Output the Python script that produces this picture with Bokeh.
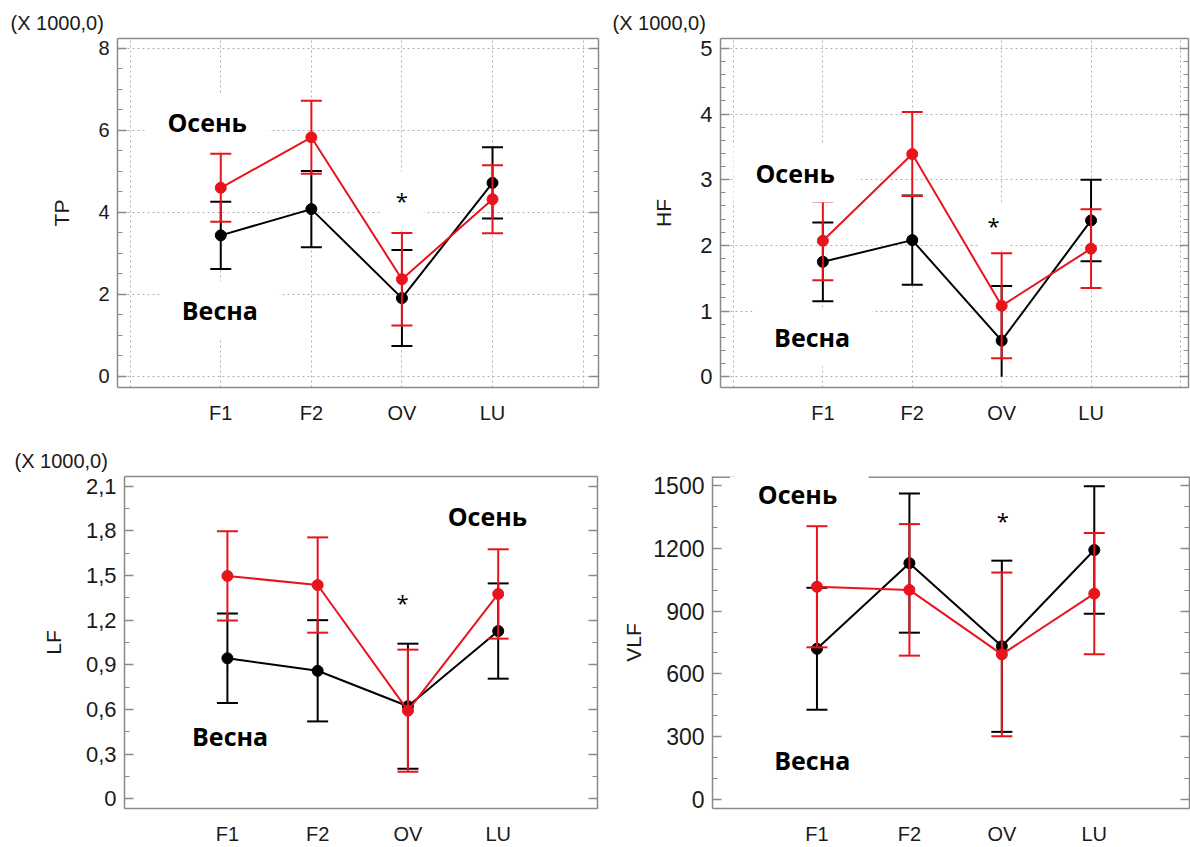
from bokeh.plotting import figure
from bokeh.models import (Range1d, LinearAxis, FixedTicker, SingleIntervalTicker,
                          CustomJSTickFormatter, Label)
from bokeh.layouts import column, row
from bokeh.embed import file_html
from bokeh.resources import INLINE

# ---------------------------------------------------------------- data
categories = ["F1", "F2", "OV", "LU"]

# total power, x1000
tp_spring = [3.44, 4.08, 1.91, 4.72]
tp_spring_err = [0.82, 0.93, 1.17, 0.87]
tp_autumn = [4.60, 5.83, 2.37, 4.32]
tp_autumn_err = [0.83, 0.89, 1.13, 0.83]

# high frequency, x1000
hf_spring = [1.75, 2.08, 0.55, 2.38]
hf_spring_err = [0.60, 0.68, 0.83, 0.62]
hf_autumn = [2.07, 3.39, 1.08, 1.95]
hf_autumn_err = [0.60, 0.64, 0.80, 0.60]

# low frequency, x1000
lf_spring = [0.944, 0.860, 0.622, 1.127]
lf_spring_err = [0.30, 0.34, 0.42, 0.32]
lf_autumn = [1.497, 1.436, 0.592, 1.376]
lf_autumn_err = [0.30, 0.32, 0.41, 0.30]

# very low frequency
vlf_spring = [720, 1130, 732, 1193]
vlf_spring_err = [292, 333, 410, 305]
vlf_autumn = [1017, 1002, 693, 984]
vlf_autumn_err = [290, 315, 392, 290]

SPRING = "Весна"
AUTUMN = "Осень"
MARK = "*"
SCALE_NOTE = "(X 1000,0)"

# ---------------------------------------------------------------- style
FRAME = "#8a8a8a"
GRID = "#b0b0b0"
BLACK = "#000000"
RED = "#e8141c"
TEXT = "#1a1a1a"
TICK_FONT = "Liberation Sans"
NOTE_FONT = "Open Sans"

xs = list(range(1, len(categories) + 1))
grid_pos = list(range(0, len(categories) + 2))
x_labels = {float(i + 1): c for i, c in enumerate(categories)}

blank_fmt = CustomJSTickFormatter(code='return "";')


def draw_series(p, mean, err, color):
    lo = [m - e for m, e in zip(mean, err)]
    hi = [m + e for m, e in zip(mean, err)]
    # negative lower limits are cut at zero and drawn without a cap
    lo_bar = [max(v, 0) for v in lo]
    p.segment(xs, lo_bar, xs, hi, line_color=color, line_width=2)
    p.scatter(xs, hi, marker="dash", size=21, line_color=color, line_width=2)
    cap_x = [x for x, v in zip(xs, lo) if v >= 0]
    cap_y = [v for v in lo if v >= 0]
    p.scatter(cap_x, cap_y, marker="dash", size=21, line_color=color, line_width=2)
    p.line(xs, mean, line_color=color, line_width=2)
    p.scatter(xs, mean, marker="circle", size=11, fill_color=color, line_color=color)


def note(p, x, y, text, size, bold=True, pad=(22, 12)):
    h, v = pad
    p.add_layout(Label(
        x=x, y=y, text=text, text_align="center", text_baseline="middle",
        text_font=NOTE_FONT, text_font_size=size,
        text_font_style="bold" if bold else "normal", text_color="#000000",
        background_fill_color="white",
        padding=dict(left=h, right=h, top=v, bottom=v)))


def panel(name, spring, spring_err, autumn, autumn_err, *, width, height,
          borders, xr, yr, interval, minor, grid, ytick_size, xtick_size,
          label_standoff, formatter=None, scale_note=None, top_gap=None):
    left, right, top, bottom = borders
    p = figure(width=width, height=height, x_range=Range1d(*xr), y_range=Range1d(*yr),
               output_backend="svg", toolbar_location=None,
               min_border_left=left, min_border_right=right,
               min_border_top=top, min_border_bottom=bottom)
    p.outline_line_color = None
    p.background_fill_color = "white"
    p.border_fill_color = "white"

    yticker = SingleIntervalTicker(interval=interval, num_minor_ticks=minor)
    xticker = FixedTicker(ticks=xs)
    gridticker = FixedTicker(ticks=grid_pos)

    # left value axis
    yax = p.yaxis[0]
    yax.ticker = yticker
    if formatter is not None:
        yax.formatter = formatter
    yax.axis_label = name
    yax.axis_label_text_font = TICK_FONT
    yax.axis_label_text_font_style = "normal"
    yax.axis_label_text_font_size = "21px"
    yax.axis_label_text_color = TEXT
    yax.axis_label_standoff = label_standoff
    yax.major_label_text_font = TICK_FONT
    yax.major_label_text_font_size = ytick_size
    yax.major_label_text_color = TEXT
    yax.major_label_standoff = 8
    yax.axis_line_color = FRAME
    yax.axis_line_width = 1.5
    yax.major_tick_line_color = FRAME
    yax.minor_tick_line_color = FRAME
    yax.major_tick_line_width = 1.5
    yax.major_tick_in = 9
    yax.major_tick_out = 0
    yax.minor_tick_in = 5
    yax.minor_tick_out = 0

    # category axis
    xax = p.xaxis[0]
    xax.ticker = xticker
    xax.major_label_overrides = x_labels
    xax.major_label_text_font = TICK_FONT
    xax.major_label_text_font_size = xtick_size
    xax.major_label_text_color = TEXT
    xax.major_label_standoff = 8
    xax.axis_line_color = FRAME
    xax.axis_line_width = 1.5
    xax.major_tick_line_color = None
    xax.minor_tick_line_color = None

    # mirrored right axis, ticks only
    rax = LinearAxis(ticker=yticker, formatter=blank_fmt,
                     major_label_text_color=None, major_label_standoff=0,
                     axis_line_color=FRAME, axis_line_width=1.5,
                     major_tick_line_color=FRAME, minor_tick_line_color=FRAME,
                     major_tick_line_width=1.5,
                     major_tick_in=9, major_tick_out=0, minor_tick_in=5, minor_tick_out=0)
    p.add_layout(rax, "right")

    if top_gap is None:
        # top frame edge
        tax = LinearAxis(ticker=FixedTicker(ticks=[]), formatter=blank_fmt,
                         major_label_text_color=None, major_label_standoff=0,
                         axis_line_color=FRAME, axis_line_width=1.5,
                         major_tick_line_color=None, minor_tick_line_color=None)
        p.add_layout(tax, "above")
    else:
        # top edge interrupted by the note box in the corner
        g0, g1 = top_gap
        p.segment([xr[0], g1], [yr[1], yr[1]], [g0, xr[1]], [yr[1], yr[1]],
                  line_color=FRAME, line_width=3)

    p.xgrid.ticker = gridticker
    p.ygrid.ticker = yticker
    for g in (p.xgrid, p.ygrid):
        g.grid_line_color = GRID if grid else None
        g.grid_line_dash = "2 3"
        g.grid_line_width = 1

    draw_series(p, spring, spring_err, BLACK)
    draw_series(p, autumn, autumn_err, RED)

    if scale_note is not None:
        offset, size = scale_note
        p.title.text = SCALE_NOTE
        p.title.align = "left"
        p.title.offset = offset
        p.title.text_font = TICK_FONT
        p.title.text_font_size = size
        p.title.text_font_style = "normal"
        p.title.text_color = TEXT
        p.title.standoff = 9
    return p


comma_fmt = CustomJSTickFormatter(code="""
    if (Math.abs(tick) < 1e-9) { return "0"; }
    return tick.toFixed(1).replace(".", ",");
""")

p_tp = panel("TP", tp_spring, tp_spring_err, tp_autumn, tp_autumn_err,
             width=600, height=440, borders=(117, 2, 38, 53),
             xr=(-0.14, 5.17), yr=(-0.27, 8.24), interval=2, minor=4, grid=True,
             ytick_size="20px", xtick_size="20px", label_standoff=22,
             scale_note=(-107, "20px"))
note(p_tp, 0.85, 6.2, AUTUMN, "25px")
note(p_tp, 0.99, 1.61, SPRING, "25px")
note(p_tp, 3.0, 4.29, MARK, "22px", bold=False, pad=(16, 14))

p_hf = panel("HF", hf_spring, hf_spring_err, hf_autumn, hf_autumn_err,
             width=590, height=440, borders=(120, 2, 38, 46),
             xr=(-0.145, 5.09), yr=(-0.164, 5.15), interval=1, minor=5, grid=True,
             ytick_size="22px", xtick_size="20px", label_standoff=22,
             scale_note=(-108, "20px"))
note(p_hf, 0.69, 3.10, AUTUMN, "25px")
note(p_hf, 0.88, 0.60, SPRING, "25px")
note(p_hf, 2.91, 2.31, MARK, "22px", bold=False, pad=(8, 8))

p_lf = panel("LF", lf_spring, lf_spring_err, lf_autumn, lf_autumn_err,
             width=600, height=407, borders=(124, 3, 36, 27),
             xr=(-0.14, 5.10), yr=(-0.065, 2.165), interval=0.3, minor=2, grid=False,
             ytick_size="22px", xtick_size="20px", label_standoff=18,
             formatter=comma_fmt, scale_note=(-110, "20px"))
note(p_lf, 1.03, 0.42, SPRING, "25px")
note(p_lf, 3.88, 1.90, AUTUMN, "25px")
note(p_lf, 2.94, 1.32, MARK, "22px", bold=False, pad=(16, 14))

p_vlf = panel("VLF", vlf_spring, vlf_spring_err, vlf_autumn, vlf_autumn_err,
              width=590, height=407, borders=(112, 1, 26, 28),
              xr=(-0.13, 5.03), yr=(-45, 1545), interval=300, minor=3, grid=False,
              ytick_size="23px", xtick_size="20px", label_standoff=5,
              top_gap=(0.12, 1.56))
note(p_vlf, 0.79, 1462, AUTUMN, "25px", pad=(28, 7))
note(p_vlf, 0.95, 189, SPRING, "25px")
note(p_vlf, 3.01, 1337, MARK, "22px", bold=False, pad=(16, 14))

layout = column(row(p_tp, p_hf), row(p_lf, p_vlf))

open("out.html", "w").write(file_html(layout, INLINE))
